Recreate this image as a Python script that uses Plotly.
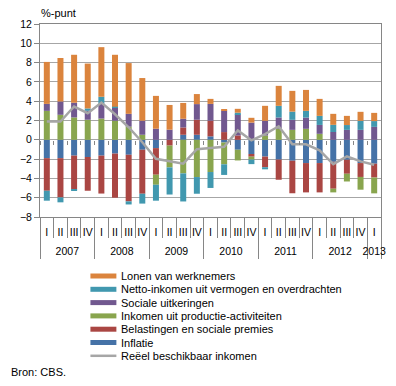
import plotly.graph_objects as go

# ---------------- data ----------------
years = ["2007"] * 4 + ["2008"] * 4 + ["2009"] * 4 + ["2010"] * 4 + ["2011"] * 4 + ["2012"] * 4 + ["2013"]
quarters = ["I", "II", "III", "IV"] * 6 + ["I"]

inflatie = [-1.90, -1.90, -1.64, -1.78, -1.64, -1.43, -1.55, -1.03, -0.86, 0.00, 0.52, 0.52, 0.36,
            -0.28, -1.03, -1.47, -1.74, -2.05, -2.17, -2.41, -2.41, -2.28, -2.07, -2.41, -2.48]
belastingen = [-3.38, -4.07, -3.50, -3.50, -3.93, -4.57, -4.83, -4.56, -2.76, -0.60, 0.76, 1.56, 1.62,
               0.80, 0.45, -0.28, -1.10, -2.09, -3.37, -3.04, -3.04, -2.79, -1.45, -1.44, -1.43]
productie = [3.00, 2.59, 2.32, 2.08, 2.20, 1.98, 1.36, 0.52, -1.04, -2.26, -3.48, -3.86, -3.34,
             -2.26, -1.11, -0.30, 0.45, 1.17, 1.03, 1.14, 0.62, -0.38, -0.80, -1.32, -1.64]
uitkeringen = [0.72, 1.38, 1.52, 0.92, 1.52, 1.37, 1.33, 1.46, 1.15, 1.05, 0.90, 1.62, 1.74,
               2.22, 2.18, 1.78, 1.52, 1.14, 1.04, 1.16, 0.92, 0.81, 1.03, 1.03, 1.34]
netto = [-1.03, -0.51, -0.14, 0.25, 0.74, 0.08, -0.32, -1.02, -1.65, -2.81, -2.91, -1.73, -1.65,
         -1.10, 0.18, -0.47, -0.22, 1.21, 0.85, 0.70, 0.94, 0.74, 0.50, 0.94, 0.60]
lonen = [4.35, 4.51, 4.97, 4.65, 5.14, 5.38, 5.26, 4.42, 3.40, 2.56, 1.64, 1.04, 0.52,
         0.11, 0.40, 0.50, 1.55, 2.07, 2.15, 2.17, 1.76, 1.14, 0.95, 0.93, 0.85]
reeel = [1.90, 1.90, 3.45, 2.76, 3.86, 2.65, 1.30, -0.25, -1.97, -2.20, -2.47, -0.97, -0.86,
         -0.72, 0.97, -0.06, 0.58, 1.40, -0.47, -0.47, -1.10, -2.52, -1.72, -2.24, -2.59]

y_ticks = [-8, -6, -4, -2, 0, 2, 4, 6, 8, 10, 12]

# stacking order (bottom-up) and legend order (top-down)
stack_series = [
    ("Inflatie", inflatie, "#4572A7"),
    ("Belastingen en sociale premies", belastingen, "#AA4643"),
    ("Inkomen uit productie-activiteiten", productie, "#89A54E"),
    ("Sociale uitkeringen", uitkeringen, "#71588F"),
    ("Netto-inkomen uit vermogen en overdrachten", netto, "#4198AF"),
    ("Lonen van werknemers", lonen, "#DB843D"),
]
line_name = "Reëel beschikbaar inkomen"
line_color = "#A6A6A6"

# ---------------- figure ----------------
# the page body has an 8px default margin; compensate so the picture lands in the 396x386 window
OFF = 8
WIN_W, WIN_H = 396, 386
W, H = WIN_W - OFF, WIN_H - OFF
# plot area in window pixels
PX0, PX1, PY0, PY1 = 39.5, 381, 24, 217
L, R, T, B = PX0 - OFF, WIN_W - PX1, PY0 - OFF, WIN_H - PY1
axc = "#868686"
gridc = "#A6A6A6"
font_family = "Liberation Sans, Arial, sans-serif"


def px_x(p):
    return (p - PX0) / (PX1 - PX0)


def px_y(p):
    return (PY1 - p) / (PY1 - PY0)


n = len(quarters)
cats = [f"{y} {q}" for y, q in zip(years, quarters)]
idx = list(range(n))

# year groups: centres and boundaries derived from the category list
year_names = []
for y in years:
    if y not in year_names:
        year_names.append(y)
year_centres = [sum(i for i in idx if years[i] == y) / years.count(y) for y in year_names]
year_bounds = [-0.5] + [i - 0.5 for i in range(1, n) if years[i] != years[i - 1]] + [n - 0.5]
quarter_bounds = [i - 0.5 for i in range(n + 1)]

fig = go.Figure()
for name, vals, col in stack_series:
    fig.add_trace(go.Bar(x=cats, y=vals, name=name, marker=dict(color=col, line=dict(width=0)),
                         showlegend=False))
fig.add_trace(go.Scatter(x=cats, y=reeel, name=line_name, mode="lines",
                         line=dict(color=line_color, width=2.5), showlegend=False))

# helper traces for overlay axes (year labels, ticks, dividers)
for ax in ["x2", "x3", "x4", "x5"]:
    fig.add_trace(go.Scatter(x=[None], y=[None], xaxis=ax, yaxis="y", showlegend=False, hoverinfo="skip"))

ymin, ymax = y_ticks[0], y_ticks[-1]
rng = [-0.5, n - 0.5]
overlay_common = dict(overlaying="x", anchor="free", range=rng, showgrid=False,
                      zeroline=False, showline=False, tickcolor=axc, tickwidth=1)

fig.update_layout(
    width=W, height=H,
    margin=dict(l=L, r=R, t=T, b=B, autoexpand=False),
    barmode="relative", bargap=0.56,
    plot_bgcolor="white", paper_bgcolor="white",
    showlegend=False,
    font=dict(family=font_family, size=11, color="black"),
    # quarter labels
    xaxis=dict(type="category", range=rng, tickvals=cats, ticktext=quarters,
               showline=True, mirror=True, linecolor=axc, linewidth=1,
               ticks="", tickangle=0, ticklabelstandoff=5,
               tickfont=dict(size=10.5), showgrid=False, automargin=False),
    # quarter tick marks at the bottom
    xaxis2=dict(position=0, tickvals=quarter_bounds, ticks="outside", ticklen=20,
                showticklabels=False, **overlay_common),
    # small tick marks on the zero line
    xaxis3=dict(position=(0 - ymin) / (ymax - ymin), tickvals=quarter_bounds, ticks="outside",
                ticklen=4, showticklabels=False, **overlay_common),
    # year dividers
    xaxis4=dict(position=0, tickvals=year_bounds, ticks="outside", ticklen=41,
                showticklabels=False, **overlay_common),
    # year labels
    xaxis5=dict(position=0, tickvals=year_centres, ticktext=year_names, ticks="",
                ticklabelstandoff=26, tickangle=0, tickfont=dict(size=10.5), **overlay_common),
    yaxis=dict(range=[ymin, ymax], tickvals=y_ticks, gridcolor=gridc, gridwidth=1,
               showline=True, mirror=True, linecolor=axc, linewidth=1,
               ticks="outside", ticklen=5, tickcolor=axc, zeroline=False,
               tickfont=dict(size=10.5), automargin=False),
)

# title of the value axis
fig.add_annotation(text="%-punt", xref="paper", yref="paper", x=px_x(38), y=px_y(13),
                   xanchor="left", yanchor="middle", showarrow=False, font=dict(size=11))

# manual legend (compact rows)
legend_items = [(nm, col, "bar") for nm, _, col in reversed(stack_series)] + [(line_name, line_color, "line")]
row0, step = 276, 13.3
for i, (nm, col, kind) in enumerate(legend_items):
    yc = row0 + step * i
    if kind == "bar":
        fig.add_shape(type="rect", xref="paper", yref="paper",
                      x0=px_x(90), x1=px_x(116), y0=px_y(yc - 2.5), y1=px_y(yc + 2.5),
                      fillcolor=col, line=dict(width=0))
    else:
        fig.add_shape(type="line", xref="paper", yref="paper",
                      x0=px_x(90), x1=px_x(116), y0=px_y(yc), y1=px_y(yc),
                      line=dict(color=col, width=2.5))
    fig.add_annotation(text=nm, xref="paper", yref="paper", x=px_x(118.5), y=px_y(yc),
                       xanchor="left", yanchor="middle", showarrow=False, font=dict(size=11))

fig.add_annotation(text="Bron: CBS.", xref="paper", yref="paper", x=px_x(OFF), y=px_y(372),
                   xanchor="left", yanchor="middle", showarrow=False, font=dict(size=11))

fig.write_html("out.html")
